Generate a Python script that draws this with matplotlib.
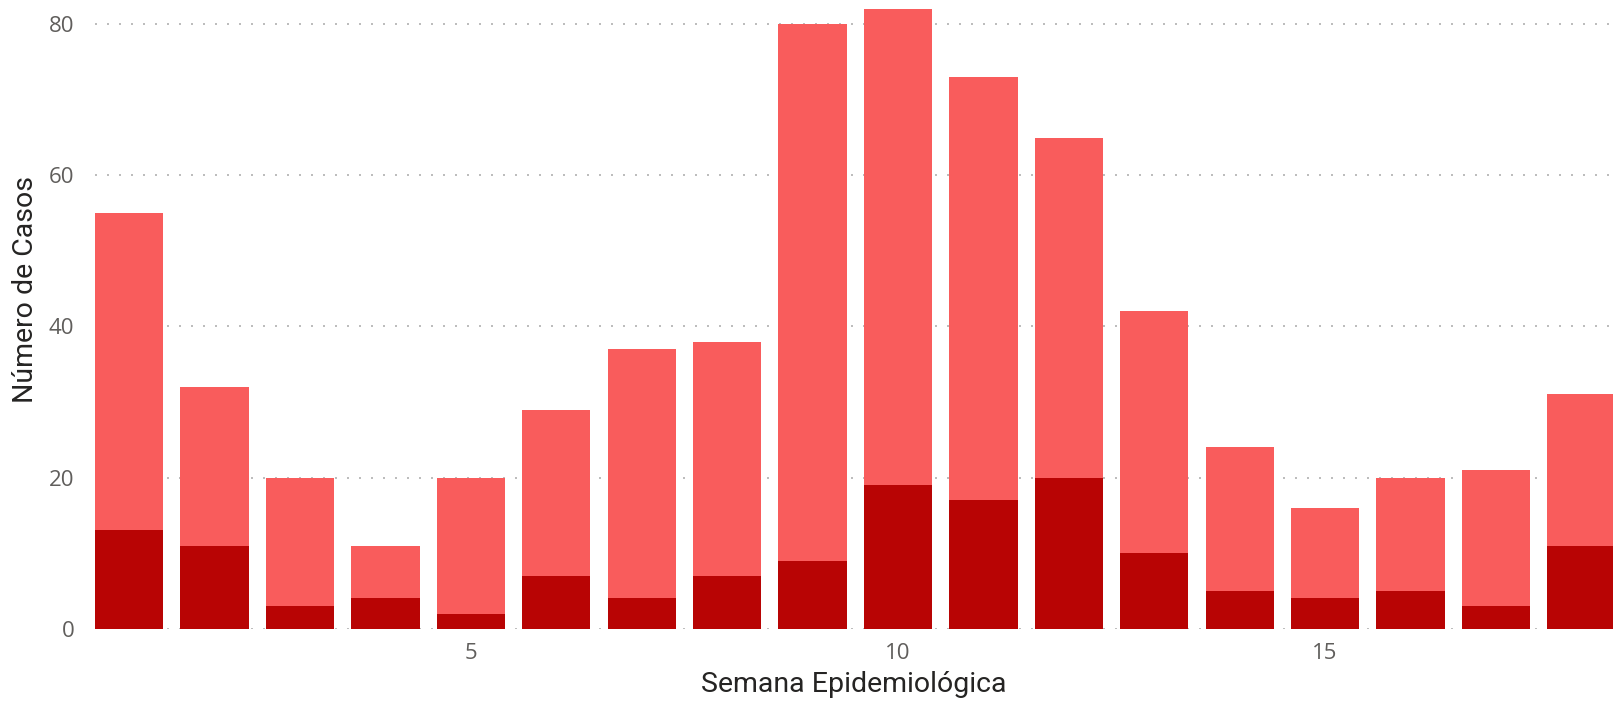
import matplotlib
matplotlib.use("Agg")
import matplotlib.pyplot as plt

# weekly cases
semanas = list(range(1, 19))
total_casos = [55, 32, 20, 11, 20, 29, 37, 38, 80, 82, 73, 65, 42, 24, 16, 20, 21, 31]
casos_graves = [13, 11, 3, 4, 2, 7, 4, 7, 9, 19, 17, 20, 10, 5, 4, 5, 3, 11]
ticks_x = [5, 10, 15]
ticks_y = [0, 20, 40, 60, 80]

resto = [t - g for t, g in zip(total_casos, casos_graves)]

fig = plt.figure(figsize=(16.13, 7.04), dpi=100)
ax = fig.add_axes([0.0589, 0.107, 0.9411, 0.893])

ax.bar(semanas, casos_graves, width=0.8, color="#B80404", zorder=3)
ax.bar(semanas, resto, width=0.8, bottom=casos_graves, color="#F95C5C", zorder=3)

ax.set_xlim(0.6, 18.37)
ax.set_ylim(0, 83.2)
ax.set_xticks(ticks_x)
ax.set_yticks(ticks_y)

for y in ticks_y:
    ax.axhline(y, color="#BDBDBD", lw=1.44, ls=(0, (1, 5)), dash_capstyle="butt", zorder=1)

for s in ax.spines.values():
    s.set_visible(False)

ax.tick_params(axis="both", length=0, labelsize=16, labelcolor="#605E5C")
ax.tick_params(axis="y", pad=15)
ax.tick_params(axis="x", pad=10)
for lab in ax.get_xticklabels() + ax.get_yticklabels():
    lab.set_family("Open Sans")

ax.set_xlabel("Semana Epidemiológica", fontsize=20.5, color="#252423", family="Roboto",
              labelpad=5)
ax.set_ylabel("Número de Casos", fontsize=20.5, color="#252423", family="Roboto")
ax.yaxis.set_label_coords(-0.037, 0.54)

fig.savefig("out.png", dpi=100)
